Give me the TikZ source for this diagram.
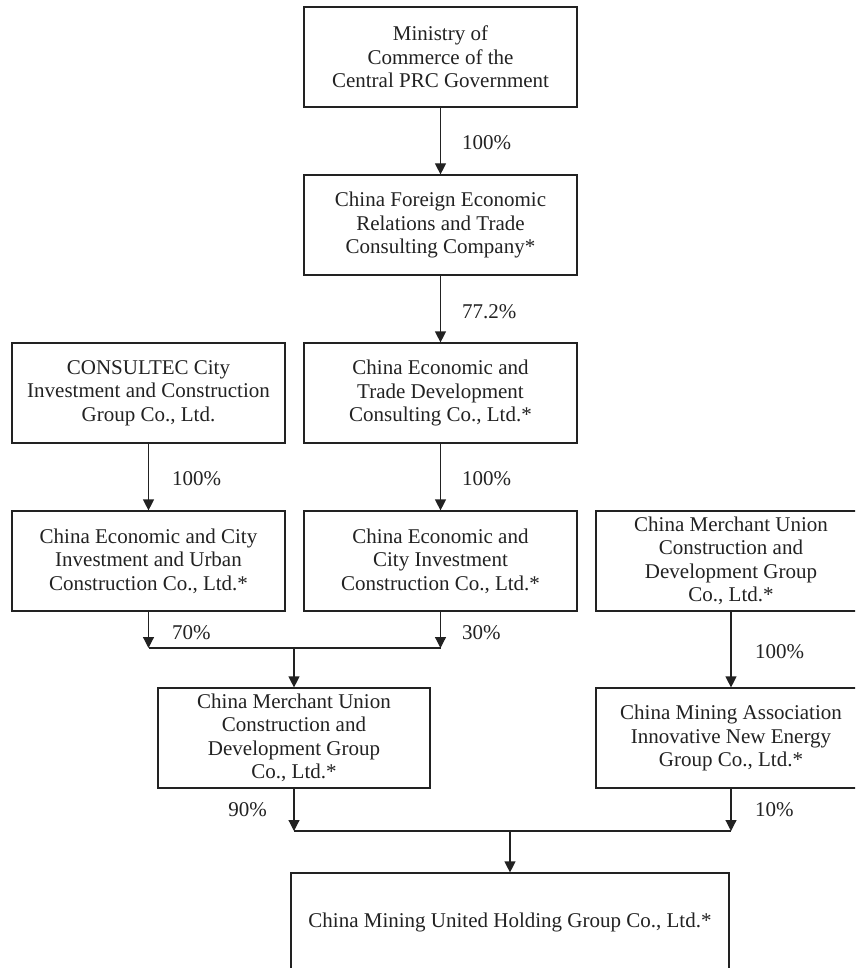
\documentclass[tikz,border=0pt]{standalone}
\usepackage{fontspec}
\setmainfont{Liberation Serif}
\usetikzlibrary{arrows.meta}
\definecolor{ink}{HTML}{222222}
\tikzset{
  box/.style={draw=ink, line width=1.2pt, rectangle, minimum width=273pt, minimum height=100pt,
    align=center, inner sep=0pt, text=ink, font=\fontsize{21}{23.5}\selectfont},
  pct/.style={anchor=base west, inner sep=0pt, text=ink, font=\fontsize{21}{23.5}\selectfont},
  pctl/.style={anchor=base east, inner sep=0pt, text=ink, font=\fontsize{21}{23.5}\selectfont},
  arr/.style={draw=ink, line width=1.2pt, -{Triangle[width=11pt,length=11pt]}},
  ln/.style={draw=ink, line width=1.2pt}
}
\begin{document}
\begin{tikzpicture}[x=1pt,y=-1pt]
\useasboundingbox (0,0) rectangle (855,968);
\fill[white] (0,0) rectangle (855,968);
\clip (0,0) rectangle (855,968);

\node[box] (m1) at (440.5,57) {Ministry of\\Commerce of the\\Central PRC Government};
\node[box] (m2) at (440.5,225) {China Foreign Economic\\Relations and Trade\\Consulting Company*};
\node[box] (m3) at (148.5,393) {CONSULTEC City\\Investment and Construction\\Group Co., Ltd.};
\node[box] (m4) at (440.5,393) {China Economic and\\Trade Development\\Consulting Co., Ltd.*};
\node[box] (m5) at (148.5,561) {China Economic and City\\Investment and Urban\\Construction Co., Ltd.*};
\node[box] (m6) at (440.5,561) {China Economic and\\City Investment\\Construction Co., Ltd.*};
\node[box, minimum width=270pt] (m7) at (731,561) {China Merchant Union\\Construction and\\Development Group\\Co., Ltd.*};
\node[box, minimum width=272pt] (m8) at (294,738) {China Merchant Union\\Construction and\\Development Group\\Co., Ltd.*};
\node[box, minimum width=270pt] (m9) at (731,738) {China Mining Association\\Innovative New Energy\\Group Co., Ltd.*};
\node[box, minimum width=438pt, minimum height=98pt] (m10) at (510,922) {China Mining United Holding Group Co., Ltd.*};

\draw[arr] (m1) -- (m2);
\draw[arr] (m2) -- (m4);
\draw[arr] (m3) -- (m5);
\draw[arr] (m4) -- (m6);
\draw[arr] (m7) -- (m9);

\coordinate (j1l) at (148.5,648);
\coordinate (j1r) at (440.5,648);
\coordinate (j1m) at (294,648);
\draw[arr] (m5.south) -- (j1l);
\draw[arr] (m6.south) -- (j1r);
\draw[ln] (j1l) -- (j1r);
\draw[arr] (j1m) -- (m8.north);

\coordinate (j2l) at (294,831);
\coordinate (j2r) at (731,831);
\coordinate (j2m) at (510,831);
\draw[arr] (m8.south) -- (j2l);
\draw[arr] (m9.south) -- (j2r);
\draw[ln] (j2l) -- (j2r);
\draw[arr] (j2m) -- (m10.north);

\node[pct] (p1) at (462,150) {100\%};
\node[pct] (p2) at (462,318) {77.2\%};
\node[pct] (p3) at (172,485) {100\%};
\node[pct] (p4) at (462,485) {100\%};
\node[pct] (p5) at (172,639) {70\%};
\node[pct] (p6) at (462,639) {30\%};
\node[pct] (p7) at (755,658) {100\%};
\node[pctl] (p8) at (267,816) {90\%};
\node[pct] (p9) at (755,816) {10\%};
\end{tikzpicture}
\end{document}
